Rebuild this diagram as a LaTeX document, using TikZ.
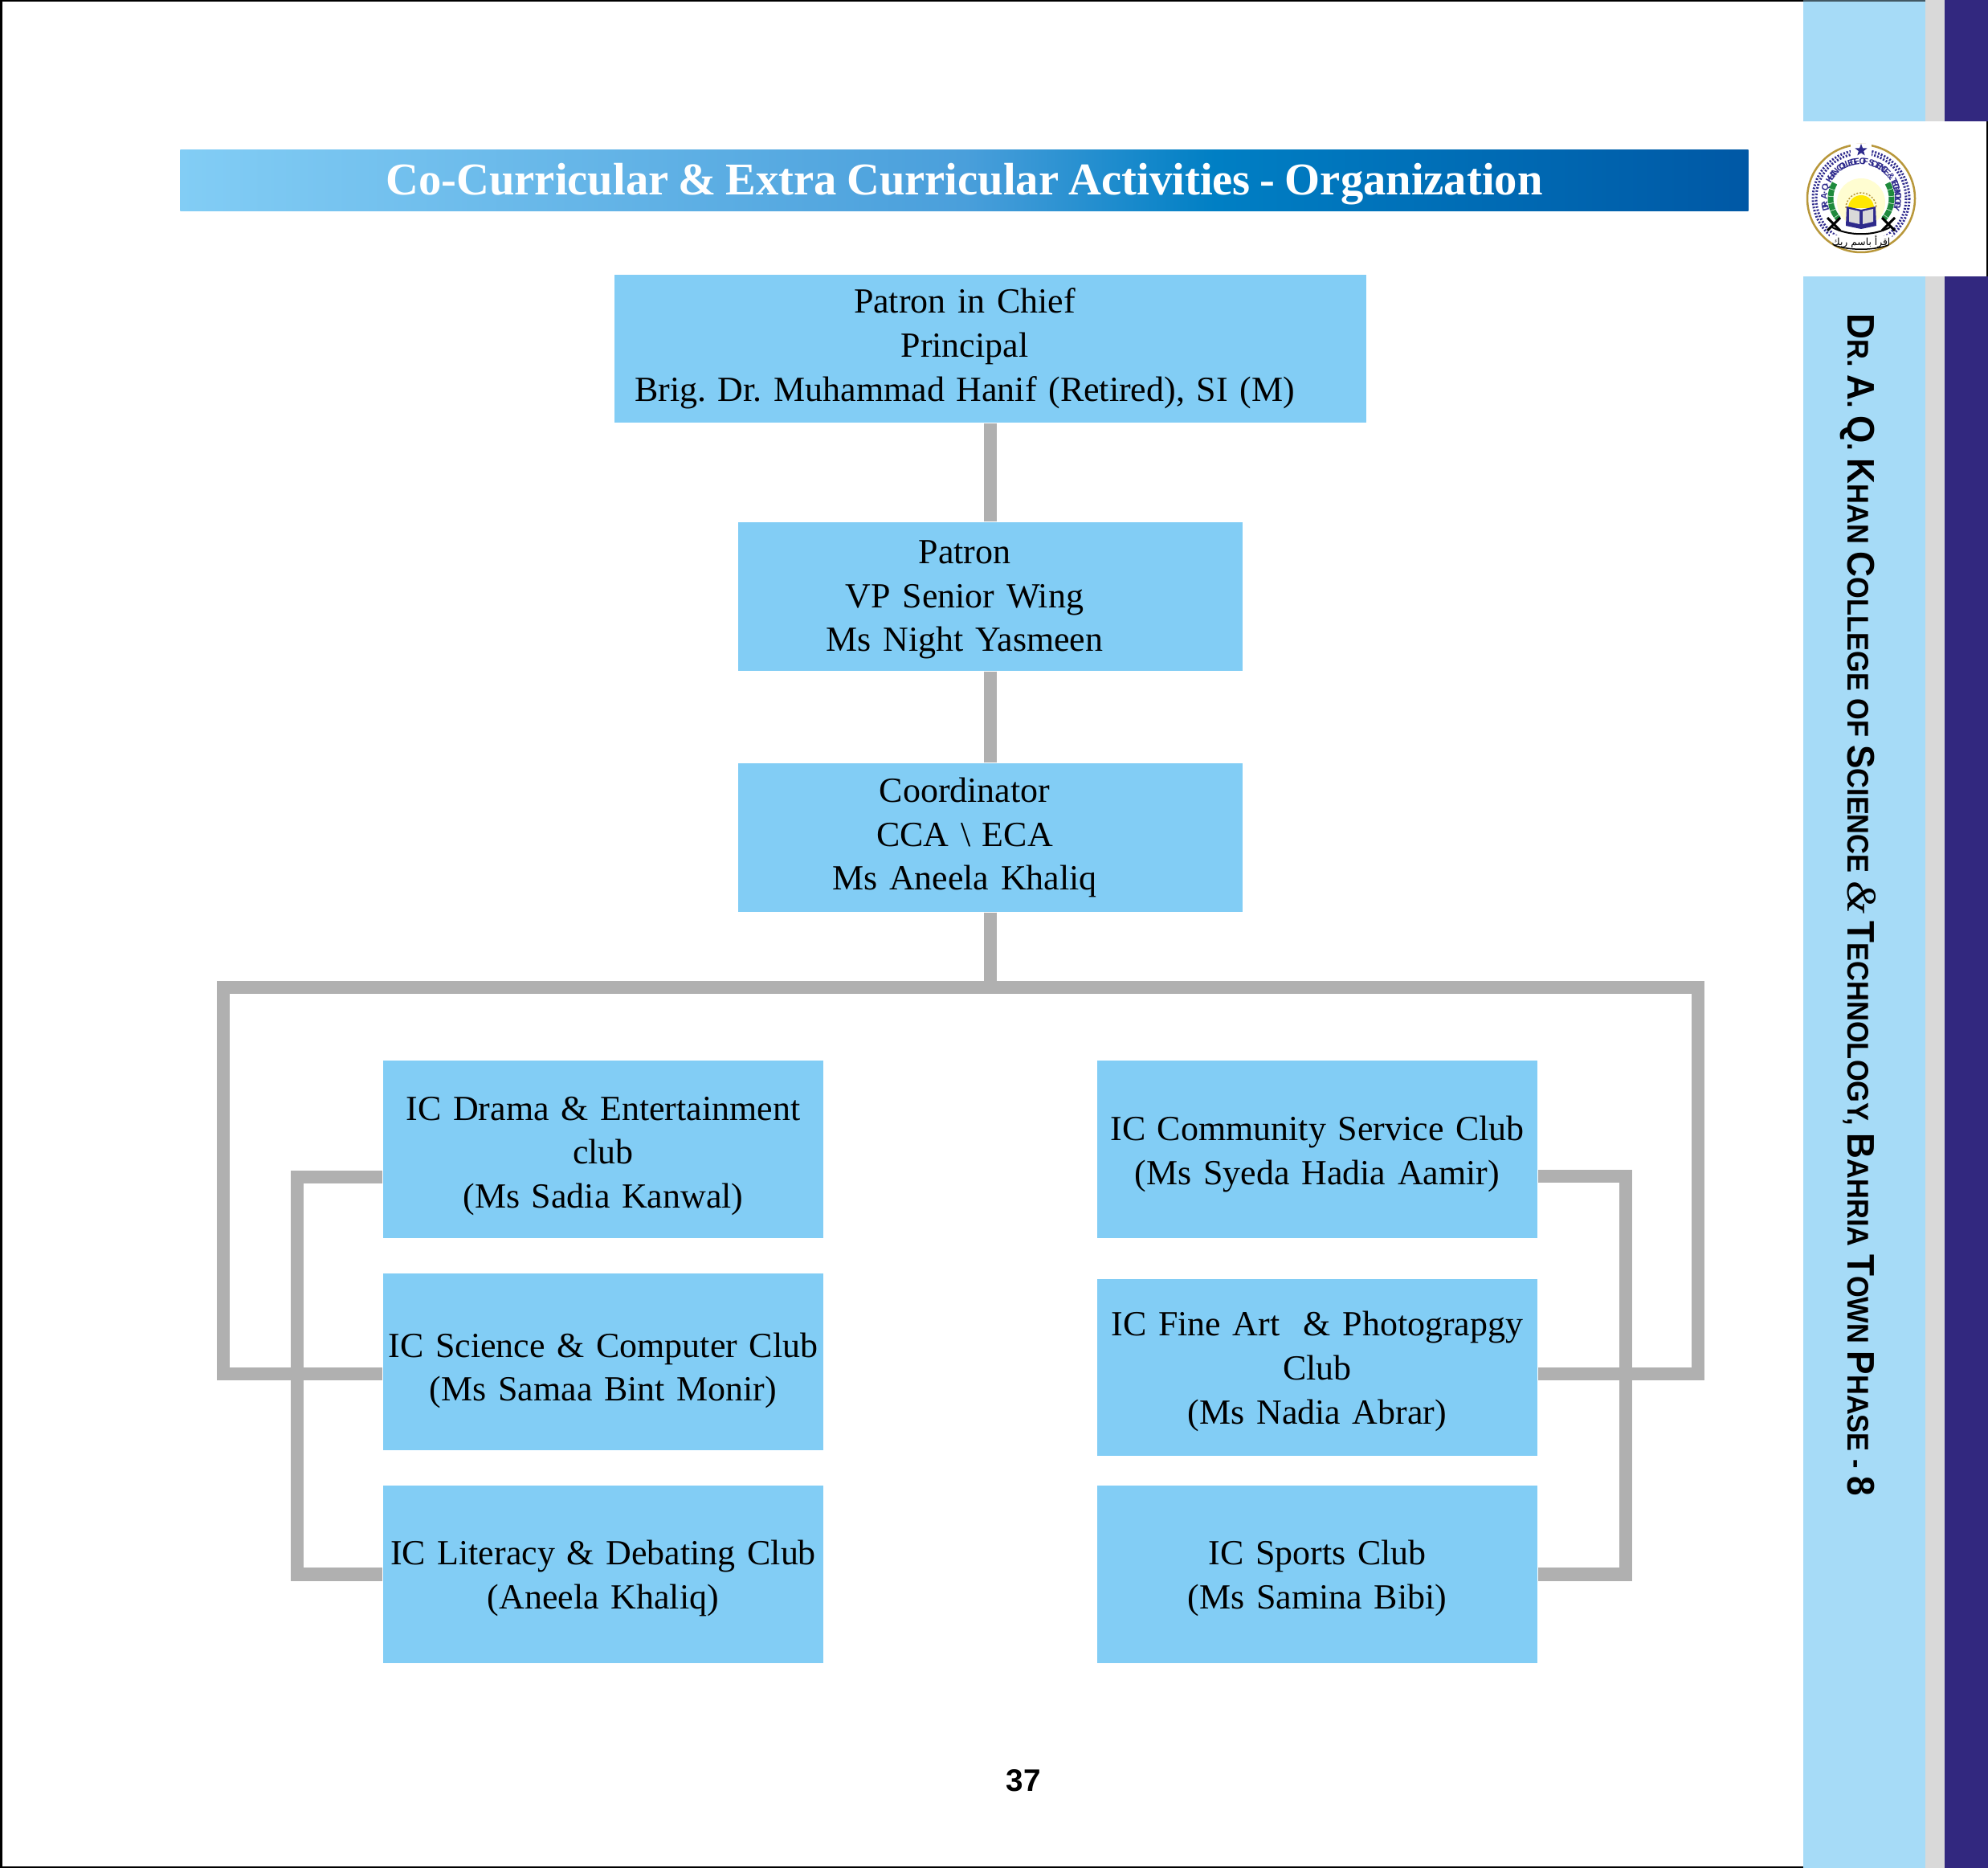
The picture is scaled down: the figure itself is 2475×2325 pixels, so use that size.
\documentclass[tikz,border=0pt]{standalone}
\usepackage{fontspec}
\setmainfont[WordSpace=0.85]{Liberation Serif}
\newfontfamily\sidefont{Liberation Sans}
\newfontfamily\collegefont[FakeStretch=0.923]{Liberation Sans}
\newfontfamily\arabicfont[Script=Arabic]{DejaVu Sans}
\TeXXeTstate=1
\frenchspacing
\usetikzlibrary{calc,shapes.geometric}
\definecolor{boxblue}{HTML}{82CDF5}
\definecolor{barblue}{HTML}{A6DBF7}
\definecolor{bargrey}{HTML}{D9D9D9}
\definecolor{barnavy}{HTML}{32287F}
\definecolor{linkgrey}{HTML}{B0B0B0}
\definecolor{sealnavy}{HTML}{2E2A8C}
\definecolor{sealgold}{HTML}{B8973A}
\definecolor{sealgreen}{HTML}{1E8A3C}
\definecolor{headlow}{HTML}{4A9FDB}
\definecolor{headmid}{HTML}{007FC4}
\definecolor{headend}{HTML}{0058A5}
\pgfdeclarehorizontalshading{bannerfade}{100bp}{color(0bp)=(boxblue); color(25bp)=(boxblue); color(50bp)=(headlow); color(58bp)=(headmid); color(75bp)=(headend); color(100bp)=(headend)}
\newcommand{\bigcaps}[1]{{\fontsize{13.6}{14}\selectfont #1}}
\newcommand{\textdrop}[1]{\rule{0pt}{\dimexpr 8.6pt+#1\relax}}
\tikzset{
  orgbox/.style={fill=boxblue,inner sep=0pt,font=\fontsize{12.5}{15.6}\selectfont,align=center,text=black},
  topbox/.style={orgbox,execute at begin node={\leftskip=0pt plus 1fil\rightskip=0.64cm plus 1fil\parfillskip=0pt}},
  clubbox/.style={orgbox,minimum width=5.48cm,text width=5.48cm,minimum height=2.2cm},
  orglink/.style={draw=linkgrey,line width=0.165cm}
}
\begin{document}
\begin{tikzpicture}[line cap=butt,line join=miter,x=0.01cm,y=-0.01cm]
    \useasboundingbox (0,0) rectangle (2475,2325);
    \fill [white] (0,0) rectangle (2475,2325);
    \draw [line width=0.05cm] (0,0) rectangle (2475,2325);
    \fill [barblue] (2245,0) rectangle (2397,151);
    \fill [bargrey] (2397,0) rectangle (2421,151);
    \fill [barnavy] (2421,0) rectangle (2475,151);
    \fill [barblue] (2245,344) rectangle (2397,2325);
    \fill [bargrey] (2397,344) rectangle (2421,2325);
    \fill [barnavy] (2421,344) rectangle (2475,2325);
    \fill [black!60!barblue] (2245,0) rectangle (2397,2);

    \node [minimum width=19.51cm,minimum height=0.75cm,inner sep=0pt,shading=bannerfade,text=white,text height=13.6pt,text depth=3.6pt,font=\fontsize{16.1}{20}\selectfont\bfseries] (banner) at (1200.5,224.5) {Co-Curricular \& Extra Curricular Activities - Organization};

    \node [topbox,text width=9.36cm,minimum height=1.84cm] (patronchief) at (1233,434) {Patron in Chief\\Principal\\Brig. Dr. Muhammad Hanif (Retired), SI (M)};
    \node [topbox,text width=6.28cm,minimum height=1.85cm] (patron) at (1233,742.5) {\textdrop{1.8pt}Patron\\VP Senior Wing\\Ms Night Yasmeen};
    \node [topbox,text width=6.28cm,minimum height=1.85cm] (coordinator) at (1233,1042.5) {Coordinator\\CCA \textbackslash{} ECA\\Ms Aneela Khaliq};

    \node [clubbox,minimum height=2.21cm] (drama) at (751,1430.5) {\textdrop{4.5pt}IC Drama \& Entertainment\\club\\(Ms Sadia Kanwal)};
    \node [clubbox] (science) at (751,1695) {\textdrop{6.3pt}IC Science \& Computer Club\\(Ms Samaa Bint Monir)};
    \node [clubbox,minimum height=2.21cm] (literacy) at (751,1959.5) {\textdrop{2.7pt}IC Literacy \& Debating Club\\(Aneela Khaliq)};
    \node [clubbox,minimum height=2.21cm] (community) at (1640,1430.5) {\textdrop{3.6pt}IC Community Service Club\\(Ms Syeda Hadia Aamir)};
    \node [clubbox] (fineart) at (1640,1702) {\textdrop{2.7pt}IC Fine Art\ \ \& Photograpgy\\Club\\(Ms Nadia Abrar)};
    \node [clubbox,minimum height=2.21cm] (sports) at (1640,1959.5) {\textdrop{2.7pt}IC Sports Club\\(Ms Samina Bibi)};

    \coordinate (busmid) at (1233,1229);
    \coordinate (busleft) at (278,1229);
    \coordinate (busright) at (2114,1229);
    \coordinate (railleft) at (370,1710);
    \coordinate (railright) at (2024,1710);

    \draw [orglink] (patronchief) -- (patron);
    \draw [orglink] (patron) -- (coordinator);
    \draw [orglink] (coordinator) -- (busmid);
    \draw [orglink] (science.west) ++(0,15) -| (busleft) -- (busright) |- ($(fineart.east)+(0,8)$);
    \draw [orglink] (drama.west) ++(0,34.5) -| (railleft) |- (literacy.west);
    \draw [orglink] (community.east) ++(0,33.5) -| (railright) |- (sports.east);

    \node [anchor=base west,rotate=-90,inner sep=0pt,font=\collegefont\bfseries\fontsize{10.6}{12}\selectfont] (college) at (2300,390) {\bigcaps{D}R. \bigcaps{A}. \bigcaps{Q}. \bigcaps{K}HAN \bigcaps{C}OLLEGE OF \bigcaps{S}CIENCE {\rmfamily\mdseries\itshape\fontsize{15}{15}\selectfont\&} \bigcaps{T}ECHNOLOGY, \bigcaps{B}AHRIA \bigcaps{T}OWN \bigcaps{P}HASE - \bigcaps{8}};

    \node [font=\sidefont\bfseries\fontsize{11}{13}\selectfont,inner sep=0pt] (pagenum) at (1274,2216) {37};

    \begin{scope}[shift={(2317,247)}]
        \fill [white] (0,0) circle (68);
        \draw [sealgold,line width=0.025cm] (0,0) circle (67);
        \draw [sealnavy,line width=0.03cm,dash pattern=on 0.02cm off 0.02cm] (0,0) circle (60);
        \draw [sealnavy,line width=0.03cm,dash pattern=on 0.02cm off 0.02cm] (0,0) circle (56);
        \fill [white] (-13,-68) rectangle (13,-50);
        \node [star,star points=5,star point ratio=2.4,fill=sealnavy,inner sep=0pt,minimum size=0.16cm] (sealstar) at (0,-60) {};
        \fill [yellow!18] (0,5) circle (30);
        \foreach \sealch [count=\i] in {D,R,.,{},A,.,{},Q,.,{},K,H,A,N,{},C,O,L,L,E,G,E,{},O,F,{},S,C,I,E,N,C,E,{},\&,{},T,E,C,H,N,O,L,O,G,Y}
            \node [inner sep=0pt,text=sealnavy,font=\sidefont\bfseries\fontsize{3.2}{3}\selectfont,rotate={-(-195+(\i-1)*210/45+90)}] (sealch\i) at ({-195+(\i-1)*210/45}:46) {\sealch};
        \draw [sealgreen,line width=0.07cm,dash pattern=on 0.08cm off 0.008cm] (-150:38) arc (-150:-222:38);
        \draw [sealgreen,line width=0.07cm,dash pattern=on 0.08cm off 0.008cm] (-30:38) arc (-30:42:38);
        \fill [yellow!90!orange] (-16,12) arc (-180:0:16) -- cycle;
        \draw [sealgold,line width=0.015cm,dash pattern=on 0.02cm off 0.02cm] (-19,12) arc (-180:0:19);
        \fill [sealnavy] (-18,10) -- (0,14) -- (18,10) -- (19,34) -- (0,38) -- (-19,34) -- cycle;
        \fill [black!15] (-15,13) -- (-2,16) -- (-2,32) -- (-15,29) -- cycle;
        \fill [black!15] (15,13) -- (2,16) -- (2,32) -- (15,29) -- cycle;
        \draw [black,line width=0.03cm] (-42,24) -- (-26,40) (-26,24) -- (-42,40);
        \draw [black,line width=0.03cm] (42,24) -- (26,40) (26,24) -- (42,40);
        \draw [black,line width=0.02cm] (-36,36) .. controls (-15,47) and (15,47) .. (36,36);
        \fill [white] (-40,43) .. controls (-15,52) and (15,52) .. (40,43) -- (34,58) .. controls (15,65) and (-15,65) .. (-34,58) -- cycle;
        \draw [black,line width=0.015cm] (-34,58) .. controls (-15,65) and (15,65) .. (34,58);
        \node [inner sep=0pt,font=\arabicfont\fontsize{3.5}{4}\selectfont] (sealmotto) at (0,54) {\beginR اقرأ باسم ربك\endR};
    \end{scope}
\end{tikzpicture}
\end{document}
